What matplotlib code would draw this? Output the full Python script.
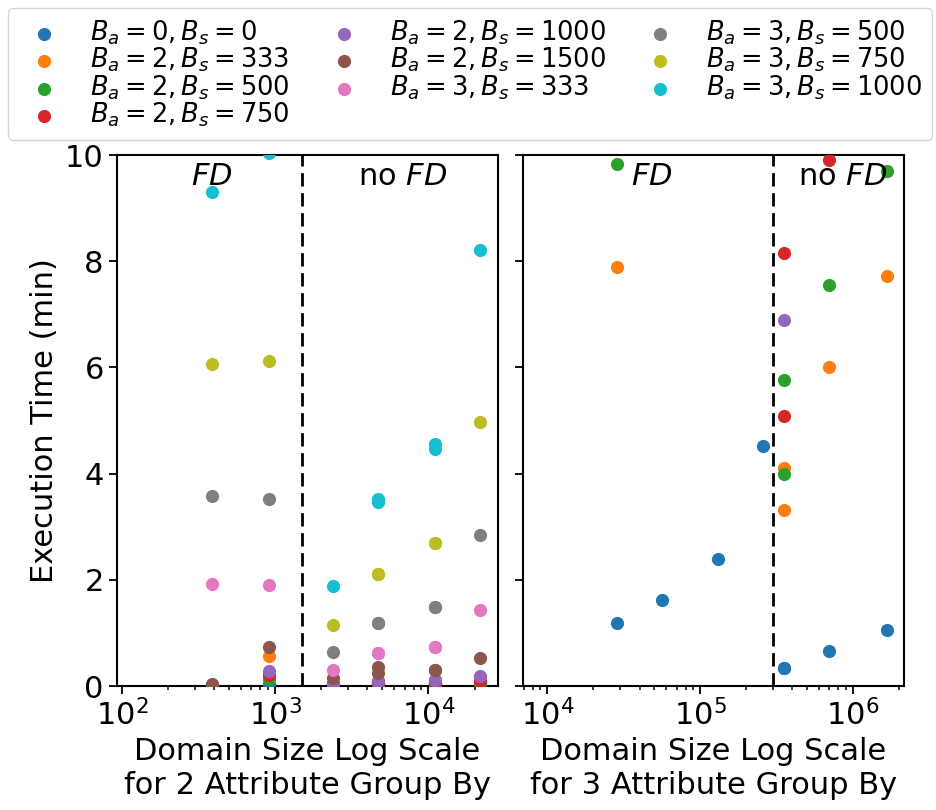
import numpy as np
import matplotlib
matplotlib.use('Agg')
import matplotlib.pyplot as plt

# ── Данни ──
labels = ['$B_a = 0, B_s = 0$', '$B_a = 2, B_s = 333$', '$B_a = 2, B_s = 500$',
          '$B_a = 2, B_s = 750$', '$B_a = 2, B_s = 1000$', '$B_a = 2, B_s = 1500$',
          '$B_a = 3, B_s = 333$', '$B_a = 3, B_s = 500$', '$B_a = 3, B_s = 750$',
          '$B_a = 3, B_s = 1000$']
colors = ['#1f77b4', '#ff7f0e', '#2ca02c', '#d62728', '#9467bd',
          '#8c564b', '#e377c2', '#7f7f7f', '#bcbd22', '#17becf']

# 2 атрибута group by
x2 = [384, 904, 2385, 4700, 4700, 11000, 11000, 21800]
y2 = [
    [0.02, 0.03, 0.02, 0.03, 0.03, 0.04, 0.04, 0.05],
    [0.02, 0.57, 0.03, 0.04, 0.04, 0.05, 0.05, 0.07],
    [0.02, 0.13, 0.03, 0.04, 0.04, 0.05, 0.05, 0.06],
    [0.02, 0.20, 0.03, 0.05, 0.05, 0.06, 0.06, 0.10],
    [0.02, 0.28, 0.04, 0.10, 0.10, 0.11, 0.11, 0.19],
    [0.03, 0.74, 0.15, 0.36, 0.25, 0.30, 0.30, 0.53],
    [1.93, 1.90, 0.31, 0.62, 0.62, 0.73, 0.73, 1.43],
    [3.58, 3.53, 0.65, 1.19, 1.19, 1.49, 1.49, 2.84],
    [6.06, 6.12, 1.15, 2.11, 2.11, 2.70, 2.70, 4.98],
    [9.31, 10.03, 1.89, 3.47, 3.52, 4.46, 4.55, 8.21],
]

# 3 атрибута group by (nan = няма точка в графиката)
nan = np.nan
x3 = [28500, 56500, 130000, 258000, 353000, 353000, 694000, 1660000]
y3 = [
    [1.19, 1.62, 2.39, 4.52, 0.34, 0.34, 0.66, 1.06],
    [7.89, nan, nan, nan, 4.11, 3.31, 6.01, 7.72],
    [9.84, nan, nan, nan, 5.76, 3.99, 7.55, 9.70],
    [nan, nan, nan, nan, 8.15, 5.08, 9.90, nan],
    [nan, nan, nan, nan, 6.89, nan, nan, nan],
    [nan] * 8,
    [nan] * 8,
    [nan] * 8,
    [nan] * 8,
    [nan] * 8,
]

fd_split2 = 1500
fd_split3 = 3.0e5

FS = 22
fig = plt.figure(figsize=(9.36, 8.1), dpi=100)
ax1 = fig.add_axes([0.125, 0.153, 0.407, 0.6556])
ax2 = fig.add_axes([0.5588, 0.153, 0.407, 0.6556], sharey=ax1)

for ax, xs, ys in ((ax1, x2, y2), (ax2, x3, y3)):
    for i in range(len(labels)):
        ax.scatter(xs, ys[i], s=90, color=colors[i], label=labels[i],
                   linewidths=0, zorder=3)
    ax.set_xscale('log')
    ax.tick_params(which='major', labelsize=FS, length=6, width=1.3)
    ax.tick_params(which='minor', length=3, width=1.1)
    for sp in ax.spines.values():
        sp.set_linewidth(1.5)

ax1.set_xlim(92.8, 28400)
ax2.set_xlim(6920, 2.15e6)
ax1.set_ylim(0, 10)
ax1.set_yticks([0, 2, 4, 6, 8, 10])
plt.setp(ax2.get_yticklabels(), visible=False)

dash = (0, (4.8, 2.4))
ax1.axvline(fd_split2, color='k', lw=2, ls=dash, zorder=2)
ax2.axvline(fd_split3, color='k', lw=2, ls=dash, zorder=2)

# FD / no FD надписи
ax1.text(0.25, 0.96, '$FD$', transform=ax1.transAxes, ha='center', va='center', fontsize=FS)
ax1.text(0.75, 0.96, 'no $FD$', transform=ax1.transAxes, ha='center', va='center', fontsize=FS)
ax2.text(0.339, 0.96, '$FD$', transform=ax2.transAxes, ha='center', va='center', fontsize=FS)
ax2.text(0.84, 0.96, 'no $FD$', transform=ax2.transAxes, ha='center', va='center', fontsize=FS)

ax1.set_ylabel('Execution Time (min)', fontsize=FS)
ax1.set_xlabel('Domain Size Log Scale\nfor 2 Attribute Group By', fontsize=FS)
ax2.set_xlabel('Domain Size Log Scale\nfor 3 Attribute Group By', fontsize=FS)

handles, labs = ax1.get_legend_handles_labels()
fig.legend(handles, labs, loc='upper left', bbox_to_anchor=(0.0085, 0.99),
           ncol=3, fontsize=18.5, labelspacing=-0.04, columnspacing=1.1,
           borderaxespad=0)

plt.savefig('out.png', dpi=100)
plt.close()
